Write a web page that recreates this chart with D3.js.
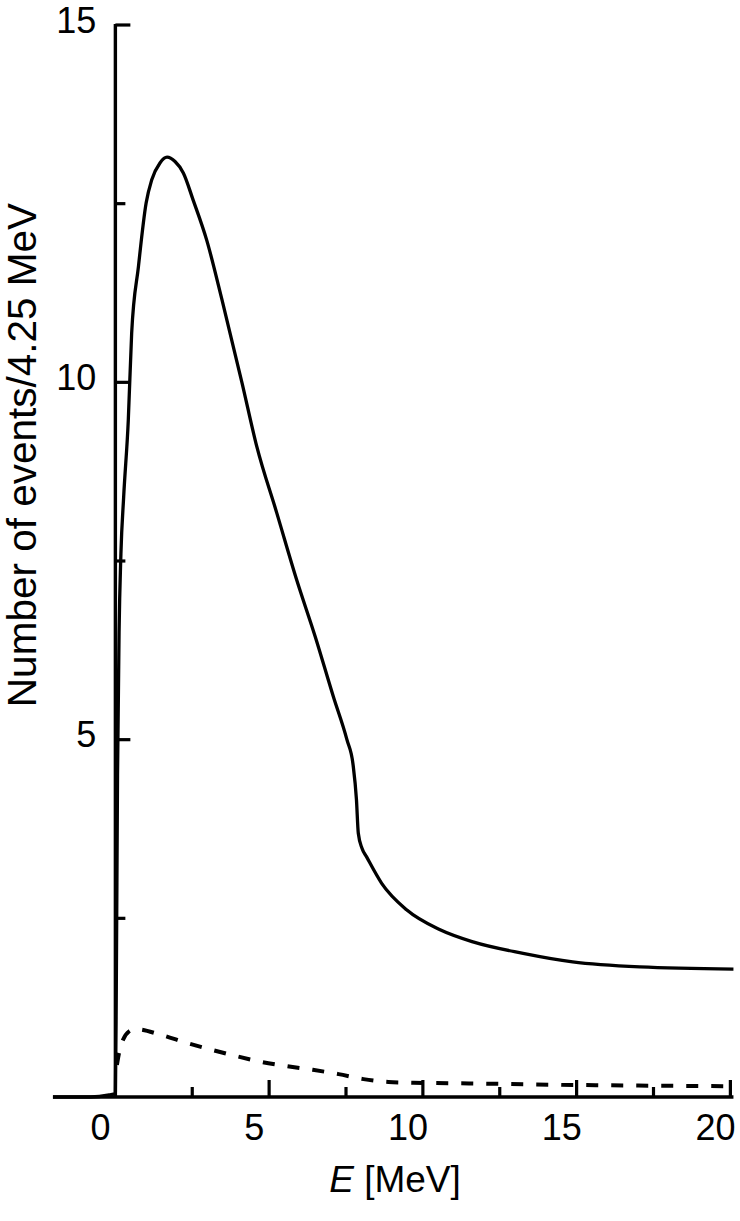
<!DOCTYPE html>
<html>
<head>
<meta charset="utf-8">
<script src="https://cdn.jsdelivr.net/npm/d3@7"></script>
<style>
  body { margin: 0; background: #fff; }
  svg { display: block; font-family: "Liberation Sans", Arial, sans-serif; }
</style>
</head>
<body>
<svg id="chart"></svg>
<script>
// energy [MeV] and events per 4.25 MeV
const solidE = [-1.53, -0.3, 0.3, 0.5, 0.53, 0.57, 0.62, 0.68, 0.77, 0.92, 1.03, 1.25, 1.5, 1.68, 1.95, 2.18, 2.44, 2.71, 3.03, 3.47, 3.97, 4.62, 5.1, 5.75, 6.4, 7.0, 7.59, 8.03, 8.23, 8.34, 8.4, 8.52, 8.67, 9.16, 9.97, 11.06, 12.13, 13.76, 15.37, 17.56, 20.6]
const solidN = [0, 0, 0.03, 0.05, 1.5, 4.5, 6.5, 7.6, 8.4, 9.47, 10.69, 11.62, 12.51, 12.83, 13.07, 13.15, 13.09, 12.93, 12.55, 11.99, 11.15, 9.99, 9.1, 8.17, 7.23, 6.44, 5.6, 5.0, 4.65, 4.16, 3.69, 3.48, 3.36, 2.99, 2.62, 2.34, 2.17, 2.01, 1.89, 1.82, 1.79]

const dashE = [0.55, 0.62, 0.75, 0.95, 1.14, 1.98, 2.79, 3.64, 4.45, 5.26, 6.1, 6.92, 7.76, 8.57, 9.38, 10.2, 12, 15, 17.5, 20.6]
const dashN = [0.45, 0.62, 0.8, 0.92, 0.95, 0.87, 0.76, 0.66, 0.57, 0.49, 0.43, 0.38, 0.32, 0.25, 0.21, 0.2, 0.19, 0.17, 0.16, 0.15]

// tick labels and tick mark positions (marks sit half a unit off the labels in the original)
const xLabels = [0, 5, 10, 15, 20]
const xMajor = [5.5, 10.5, 15.5, 20.5]
const xMinor = [3, 8, 13, 18]
const yLabels = [5, 10, 15]
const yMinor = [2.5, 7.5, 12.5]

const width = 740
const height = 1221

const xScale = d3.scaleLinear().domain([0, 20]).range([100, 715])
const yScale = d3.scaleLinear().domain([0, 15]).range([1097, 25])
const x0 = xScale(-1.53), x1 = xScale(20.6)
const axisX = xScale(0.5)
const axisY = yScale(0)

const svg = d3.select("#chart")
    .attr("width", width)
    .attr("height", height)

svg.append("rect").attr("width", width).attr("height", height).attr("fill", "#fff")

const solid = solidE.map((e, i) => ({ e: e, n: solidN[i] }))
const dashed = dashE.map((e, i) => ({ e: e, n: dashN[i] }))

const line = d3.line()
    .x(d => xScale(d.e))
    .y(d => yScale(d.n))
    .curve(d3.curveMonotoneX)

// axis lines
svg.append("line")
    .attr("x1", x0).attr("x2", x1)
    .attr("y1", axisY).attr("y2", axisY)
    .attr("stroke", "#000").attr("stroke-width", 3.4)
svg.append("line")
    .attr("x1", axisX).attr("x2", axisX)
    .attr("y1", yScale(15) - 1).attr("y2", axisY)
    .attr("stroke", "#000").attr("stroke-width", 3.4)

// tick labels via d3 axes (no tick marks of their own)
svg.append("g")
    .attr("transform", `translate(0,${axisY})`)
    .call(d3.axisBottom(xScale).tickValues(xLabels).tickSize(0).tickPadding(0))
    .call(g => g.select(".domain").remove())
    .call(g => g.selectAll("text").attr("dy", null).attr("y", 43))

svg.append("g")
    .attr("transform", `translate(${axisX},0)`)
    .call(d3.axisLeft(yScale).tickValues(yLabels).tickSize(0).tickPadding(19))
    .call(g => g.select(".domain").remove())
    .call(g => g.selectAll("text").attr("dy", "7"))

svg.selectAll(".tick text")
    .attr("fill", "#000")
    .attr("font-size", 36)
    .attr("font-family", "Liberation Sans, Arial, sans-serif")

// curves
svg.append("path")
    .datum(dashed)
    .attr("fill", "none")
    .attr("stroke", "#000")
    .attr("stroke-width", 4)
    .attr("stroke-dasharray", "12,13")
    .attr("d", line)

svg.append("path")
    .datum(solid)
    .attr("fill", "none")
    .attr("stroke", "#000")
    .attr("stroke-width", 3.3)
    .attr("stroke-linejoin", "round")
    .attr("d", line)

// tick marks, pointing into the plot
const tickG = svg.append("g").attr("stroke", "#000").attr("stroke-width", 3.2)

const xTicks = xMajor.map(v => ({ v: v, len: 17 })).concat(xMinor.map(v => ({ v: v, len: 10 })))
tickG.selectAll(".xtick")
    .data(xTicks)
    .enter()
    .append("line")
    .attr("class", "xtick")
    .attr("x1", d => xScale(d.v))
    .attr("x2", d => xScale(d.v))
    .attr("y1", axisY)
    .attr("y2", d => axisY - d.len)

const yTicks = yLabels.map(v => ({ v: v, len: 15 })).concat(yMinor.map(v => ({ v: v, len: 10 })))
tickG.selectAll(".ytick")
    .data(yTicks)
    .enter()
    .append("line")
    .attr("class", "ytick")
    .attr("x1", axisX)
    .attr("x2", d => axisX + d.len)
    .attr("y1", d => yScale(d.v))
    .attr("y2", d => yScale(d.v))

// axis titles
const xTitle = svg.append("text")
    .attr("x", 395)
    .attr("y", 1192)
    .attr("text-anchor", "middle")
    .attr("font-size", 37)
    .attr("fill", "#000")
xTitle.append("tspan").attr("font-style", "italic").text("E")
xTitle.append("tspan").text(" [MeV]")

svg.append("text")
    .attr("transform", "translate(36,455) rotate(-90)")
    .attr("text-anchor", "middle")
    .attr("font-size", 40.5)
    .attr("fill", "#000")
    .text("Number of events/4.25 MeV")
</script>
</body>
</html>
